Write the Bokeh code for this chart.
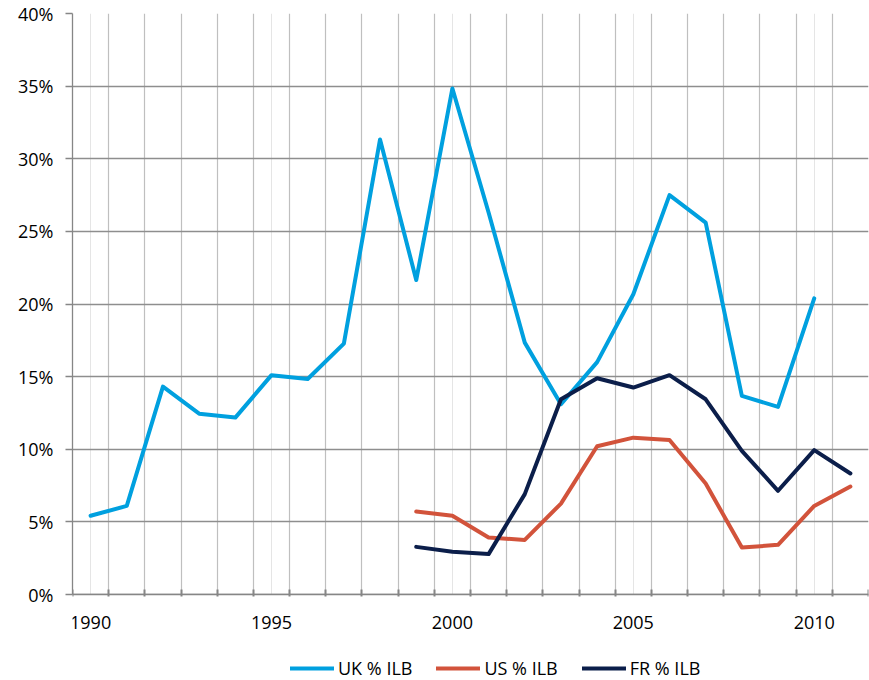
from bokeh.plotting import figure
from bokeh.models import (Range1d, FixedTicker, LinearAxis, Legend, LegendItem,
                          PrintfTickFormatter, Grid, ColumnDataSource, BoxAnnotation)
from bokeh.embed import file_html
from bokeh.resources import INLINE

# ---- data ----
uk_years = list(range(1990, 2011))
uk_pct = [5.42, 6.10, 14.31, 12.45, 12.18, 15.10, 14.84, 17.27, 31.33, 21.65,
          34.84, 26.3, 17.34, 13.1, 16.0, 20.67, 27.50, 25.60, 13.67, 12.92, 20.39]
us_fr_years = list(range(1999, 2012))
us_pct = [5.71, 5.42, 3.92, 3.76, 6.26, 10.21, 10.80, 10.64, 7.64, 3.23, 3.42, 6.10, 7.43]
fr_pct = [3.28, 2.94, 2.78, 6.91, 13.44, 14.89, 14.25, 15.10, 13.44, 9.89, 7.14, 9.94, 8.33]
all_years = list(range(1990, 2012))
year_labels = [1990, 1995, 2000, 2005, 2010]
y_ticks = [0, 5, 10, 15, 20, 25, 30, 35, 40]
series_names = ["UK % ILB", "US % ILB", "FR % ILB"]
colors = ["#00A0DF", "#D2533B", "#0B1E4A"]

FONT = "Open Sans"

# layout: plot area 581 px tall for 0..40 %, plus 86 px below it for axis labels and legend
PLOT_H = 581
BELOW_H = 86
y_low = y_ticks[0] - (y_ticks[-1] - y_ticks[0]) * BELOW_H / PLOT_H

# category boundaries (Excel category axis style)
bounds = [y - 0.5 for y in all_years] + [all_years[-1] + 0.5]

p = figure(width=869, height=680,
           x_range=Range1d(bounds[0], bounds[-1]), y_range=Range1d(y_low, y_ticks[-1]),
           output_backend="svg", toolbar_location=None,
           x_axis_location=None, y_axis_location=None,
           min_border_left=72, min_border_top=13, min_border_right=1, min_border_bottom=0)
p.outline_line_color = None
p.background_fill_color = "white"
p.border_fill_color = "white"

# grids
vgrid = Grid(dimension=0, ticker=FixedTicker(ticks=bounds, minor_ticks=[]),
             grid_line_color="#BFBFBF", grid_line_width=1.2)
hgrid = Grid(dimension=1, ticker=FixedTicker(ticks=y_ticks, minor_ticks=[]),
             grid_line_color="#8E8E8E", grid_line_width=1.3)
p.add_layout(vgrid, "center")
p.add_layout(hgrid, "center")
# white area under the 0% line (axis labels + legend zone)
mask = BoxAnnotation(top=y_ticks[0], fill_color="white", fill_alpha=1.0,
                     line_color=None, level="underlay")
p.add_layout(mask)

# y axis
yax = LinearAxis(ticker=FixedTicker(ticks=y_ticks, minor_ticks=[]),
                 formatter=PrintfTickFormatter(format="%d%%"),
                 bounds=(y_ticks[0], y_ticks[-1]))
yax.axis_line_color = "#868686"
yax.axis_line_width = 1.3
yax.major_tick_line_color = "#868686"
yax.major_tick_line_width = 1.3
yax.major_tick_in = 0
yax.major_tick_out = 7
yax.minor_tick_line_color = None
yax.major_label_standoff = 12
yax.major_label_text_font = FONT
yax.major_label_text_font_size = "18px"
yax.major_label_text_color = "#000000"
p.add_layout(yax, "left")

# x axis at 0 %: labels centred on categories, small tick marks on category boundaries
xax = LinearAxis(ticker=FixedTicker(ticks=year_labels, minor_ticks=bounds),
                 fixed_location=y_ticks[0])
xax.axis_line_color = "#868686"
xax.axis_line_width = 1.3
xax.major_tick_line_color = None
xax.major_tick_in = 0
xax.major_tick_out = 0
xax.minor_tick_line_color = "#868686"
xax.minor_tick_line_width = 2
xax.minor_tick_in = 5
xax.minor_tick_out = 2
xax.major_label_standoff = 19
xax.major_label_text_font = FONT
xax.major_label_text_font_size = "18px"
xax.major_label_text_color = "#000000"
p.add_layout(xax, "below")

# lines
src_uk = ColumnDataSource(dict(x=uk_years, y=uk_pct))
src_us = ColumnDataSource(dict(x=us_fr_years, y=us_pct))
src_fr = ColumnDataSource(dict(x=us_fr_years, y=fr_pct))
r_uk = p.line("x", "y", source=src_uk, line_color=colors[0], line_width=4,
              line_join="round", line_cap="round")
r_us = p.line("x", "y", source=src_us, line_color=colors[1], line_width=4,
              line_join="round", line_cap="round")
r_fr = p.line("x", "y", source=src_fr, line_color=colors[2], line_width=4,
              line_join="round", line_cap="round")

legend = Legend(items=[LegendItem(label=series_names[0], renderers=[r_uk]),
                       LegendItem(label=series_names[1], renderers=[r_us]),
                       LegendItem(label=series_names[2], renderers=[r_fr])],
                orientation="horizontal", location=(218, 0))
legend.border_line_color = None
legend.background_fill_alpha = 0
legend.label_text_font = FONT
legend.label_text_font_size = "18px"
legend.label_text_color = "#000000"
legend.glyph_width = 44
legend.glyph_height = 20
legend.label_standoff = 4
legend.spacing = 24
legend.padding = 3
legend.margin = 0
p.add_layout(legend, "center")

with open("out.html", "w") as f:
    f.write(file_html(p, INLINE))
